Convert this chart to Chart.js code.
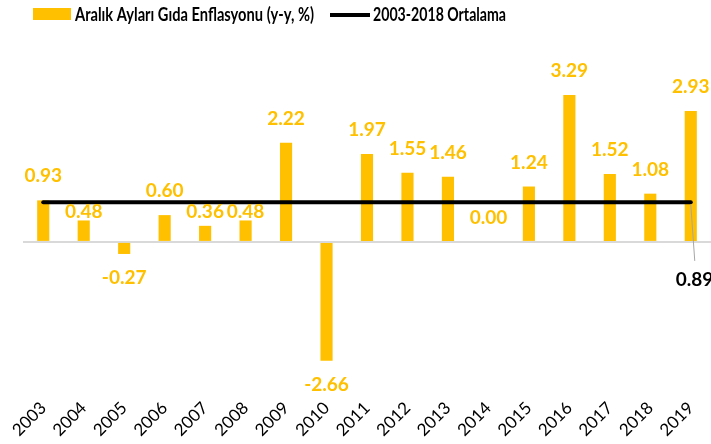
<!DOCTYPE html>
<html>
<head>
<meta charset="utf-8">
<script src="https://cdn.jsdelivr.net/npm/chart.js@4/dist/chart.umd.min.js"></script>
<style>
  body { margin: 0; background: #fff; }
  canvas { display: block; }
</style>
</head>
<body>
<canvas id="chart" width="711" height="444"></canvas>
<script>
const years = ['2003', '2004', '2005', '2006', '2007', '2008', '2009', '2010', '2011',
    '2012', '2013', '2014', '2015', '2016', '2017', '2018', '2019'];
const foodInflation = [0.93, 0.48, -0.27, 0.60, 0.36, 0.48, 2.22, -2.66, 1.97,
    1.55, 1.46, 0.00, 1.24, 3.29, 1.52, 1.08, 2.93];
const average = 0.89;
const averageLine = years.map(() => average);

const barLabel = 'Aralık Ayları Gıda Enflasyonu (y-y, %)';
const lineLabel = '2003-2018 Ortalama';

const gold = '#FFC000';
const fontName = 'Lato, "Open Sans", sans-serif';

// legend drawn by hand so it sits where the original one sits
const legendPlugin = {
    id: 'legendPlugin',
    afterDraw(chart) {
        const ctx = chart.ctx;
        ctx.save();
        ctx.fillStyle = gold;
        ctx.fillRect(33, 8, 38, 12);
        ctx.strokeStyle = '#000';
        ctx.lineWidth = 4;
        ctx.beginPath();
        ctx.moveTo(330, 15);
        ctx.lineTo(370, 15);
        ctx.stroke();
        ctx.fillStyle = '#000';
        ctx.font = 'bold 19px ' + fontName;
        ctx.textBaseline = 'middle';
        ctx.textAlign = 'left';
        ctx.fillText(barLabel, 75, 15, 239);
        ctx.fillText(lineLabel, 373, 15, 133);
        ctx.restore();
    }
};

const labelPlugin = {
    id: 'labelPlugin',
    afterDatasetsDraw(chart) {
        const ctx = chart.ctx;
        const y = chart.scales.y;
        const lineY = y.getPixelForValue(average);
        const zeroY = y.getPixelForValue(0);
        const bars = chart.getDatasetMeta(0).data;
        ctx.save();
        ctx.font = 'bold 19px ' + fontName;
        ctx.textAlign = 'center';
        ctx.textBaseline = 'middle';
        ctx.fillStyle = gold;
        bars.forEach((bar, i) => {
            const v = foodInflation[i];
            let cy;
            if (v >= 0) {
                cy = bar.y - 24;
                // labels that would sit on the average line go just below it
                if (Math.abs(cy - lineY) < 11) cy = lineY + 10;
            } else {
                cy = bar.y + 24;
            }
            ctx.fillText(v.toFixed(2), bar.x, cy);
        });

        // label of the average line, with its leader line
        const pts = chart.getDatasetMeta(1).data;
        const last = pts[pts.length - 1];
        ctx.strokeStyle = '#A6A6A6';
        ctx.lineWidth = 1;
        ctx.beginPath();
        ctx.moveTo(last.x, last.y + 2);
        ctx.lineTo(last.x + 4, zeroY + 19);
        ctx.stroke();
        ctx.fillStyle = '#000';
        ctx.textAlign = 'left';
        ctx.fillText(average.toFixed(2), last.x - 15, zeroY + 38);
        ctx.restore();
    }
};

new Chart(document.getElementById('chart'), {
    data: {
        labels: years,
        datasets: [{
            type: 'bar',
            label: barLabel,
            data: foodInflation,
            backgroundColor: gold,
            barPercentage: 0.3,
            categoryPercentage: 1,
            order: 1
        }, {
            type: 'line',
            label: lineLabel,
            data: averageLine,
            borderColor: '#000',
            borderWidth: 4,
            borderCapStyle: 'round',
            pointRadius: 0,
            fill: false,
            order: 0
        }]
    },
    options: {
        responsive: false,
        animation: false,
        devicePixelRatio: 1,
        layout: { padding: { top: 40, left: 23, right: 0, bottom: 0 } },
        plugins: {
            legend: { display: false },
            tooltip: { enabled: false }
        },
        scales: {
            x: {
                afterFit: s => { s.height = 52; },
                grid: { display: false },
                border: { display: false },
                ticks: {
                    autoSkip: false,
                    maxRotation: 45,
                    minRotation: 45,
                    padding: -2,
                    color: '#000',
                    font: { family: fontName, size: 17 }
                }
            },
            y: {
                min: -3.36,
                max: 4.52,
                border: { display: false },
                ticks: { display: false, stepSize: 0.5 },
                grid: {
                    drawTicks: false,
                    lineWidth: 2,
                    color: c => c.tick.value === 0 ? '#D9D9D9' : 'rgba(0,0,0,0)'
                }
            }
        }
    },
    plugins: [legendPlugin, labelPlugin]
});
</script>
</body>
</html>
